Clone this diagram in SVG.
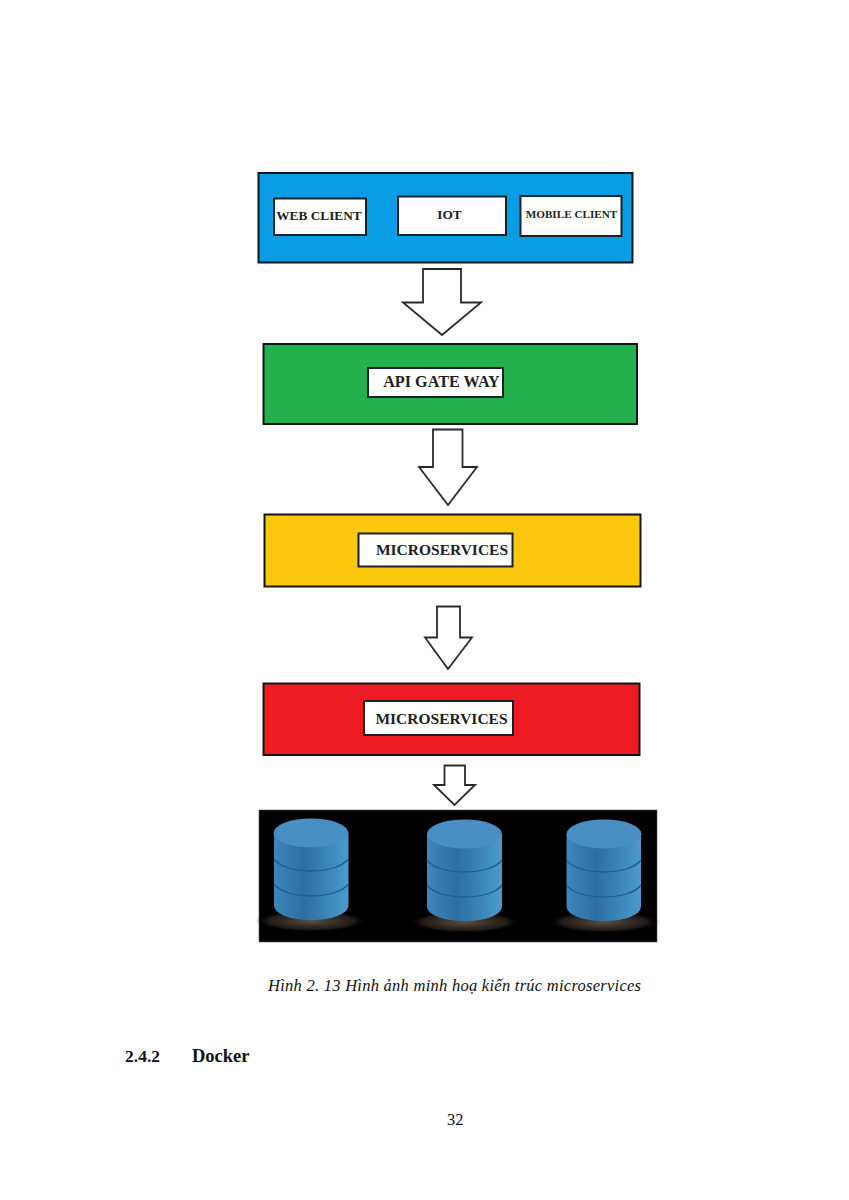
<svg xmlns="http://www.w3.org/2000/svg" width="849" height="1200" viewBox="0 0 849 1200">
<style>
.band{stroke:#10151a;stroke-width:2}
.box{fill:#fff;stroke:#16222b;stroke-width:2}
.lbl{font-family:"Liberation Serif","Times New Roman",serif;font-weight:bold;fill:#1b1f22;text-anchor:middle}
.arrow{fill:#fff;stroke:#2a2a2a;stroke-width:1.8;stroke-linejoin:miter}
.body{fill:url(#side)}
.top{fill:#4a8fc4}
.seam{fill:none;stroke:#1d5f8e;stroke-width:1.3}
.glow{fill:url(#glow)}
.page{font-family:"Liberation Serif","Times New Roman",serif;fill:#111}
</style>
<defs>
<linearGradient id="side" x1="0" x2="1" y1="0" y2="0">
<stop offset="0" stop-color="#3f86bb"/>
<stop offset=".4" stop-color="#2c6ea3"/>
<stop offset="1" stop-color="#4b9bcc"/>
</linearGradient>
<radialGradient id="glow">
<stop offset="0" stop-color="#6a5a4c" stop-opacity=".9"/>
<stop offset=".75" stop-color="#3a3028" stop-opacity=".6"/>
<stop offset="1" stop-color="#000" stop-opacity="0"/>
</radialGradient>
</defs>
<rect width="849" height="1200" fill="#fff"/>
<g id="clients">
<rect class="band" x="258.500" y="173" width="374" height="89.500" fill="#0a9de4"/>
<g id="web-client"><rect class="box" x="274" y="198.500" width="92" height="36.500"/><text class="lbl" x="319" y="219.500" font-size="13.300">WEB CLIENT</text></g>
<g id="iot"><rect class="box" x="398" y="196.500" width="108" height="38.500"/><text class="lbl" x="449.500" y="219" font-size="13.300">IOT</text></g>
<g id="mobile-client"><rect class="box" x="520.500" y="196" width="101" height="40"/><text class="lbl" x="571.500" y="218" font-size="11.200">MOBILE CLIENT</text></g>
</g>
<g id="api-gateway">
<rect class="band" x="263.500" y="344" width="373.500" height="80" fill="#24b04d"/>
<rect class="box" x="368" y="368" width="135" height="29"/>
<text class="lbl" x="441.500" y="387" font-size="16.200">API GATE WAY</text>
</g>
<g id="microservices-yellow">
<rect class="band" x="264.500" y="514.500" width="376" height="72" fill="#fdc70e"/>
<rect class="box" x="358.500" y="533.500" width="154" height="33"/>
<text class="lbl" x="442" y="555" font-size="15.500">MICROSERVICES</text>
</g>
<g id="microservices-red">
<rect class="band" x="263.500" y="683.500" width="376" height="71.500" fill="#ed1c24"/>
<rect class="box" x="364" y="701" width="149" height="34"/>
<text class="lbl" x="441.500" y="724" font-size="15.500">MICROSERVICES</text>
</g>
<g id="databases">
<rect x="259" y="810" width="398" height="132" fill="#000" stroke="#555" stroke-width=".6"/>
<g id="db-1">
<ellipse class="glow" cx="311" cy="921" rx="56" ry="11"/>
<path class="body" d="M274 833V905C274 914 290 920 311 920S348.500 914 348.500 905V833Z"/>
<path class="seam" d="M274 859C280 867 295 871 311 871S342 867 348.500 859M274 884C280 892 295 896 311 896S342 892 348.500 884"/>
<ellipse class="top" cx="311" cy="833" rx="37.500" ry="14.500"/>
</g>
<g id="db-2">
<ellipse class="glow" cx="464.500" cy="922" rx="56" ry="11"/>
<path class="body" d="M427 834V906C427 915 443 921 464.500 921S502 915 502 906V834Z"/>
<path class="seam" d="M427 860C433 868 448 872 464.500 872S496 868 502 860M427 885C433 893 448 897 464.500 897S496 893 502 885"/>
<ellipse class="top" cx="464.500" cy="834" rx="37.500" ry="14.500"/>
</g>
<g id="db-3">
<ellipse class="glow" cx="604" cy="922" rx="56" ry="11"/>
<path class="body" d="M566.500 834V906C566.500 915 583 921 604 921S641 915 641 906V834Z"/>
<path class="seam" d="M566.500 860C572 868 588 872 604 872S635 868 641 860M566.500 885C572 893 588 897 604 897S635 893 641 885"/>
<ellipse class="top" cx="604" cy="834" rx="37.500" ry="14.500"/>
</g>
</g>
<g id="connectors">
<path class="arrow" d="M423 269H461V302.500H481L442 335L403 302.500H423Z"/>
<path class="arrow" d="M433 429.500H462.500V467H477L448 505L419 467H433Z"/>
<path class="arrow" d="M437 606.500H460V637.500H472L448 669L425 637.500H437Z"/>
<path class="arrow" d="M444.500 765.500H465V785H475L454.500 805L434 785H444.500Z"/>
</g>
<text class="page" x="268" y="991" font-size="16.500" font-style="italic" textLength="373" lengthAdjust="spacing">Hình 2. 13 Hình ảnh minh hoạ kiến trúc microservices</text>
<text class="page" x="125" y="1062" font-size="17.500" font-weight="bold">2.4.2</text>
<text class="page" x="192" y="1062" font-size="18.500" font-weight="bold">Docker</text>
<text class="page" x="447" y="1125" font-size="16.500">32</text>
</svg>
